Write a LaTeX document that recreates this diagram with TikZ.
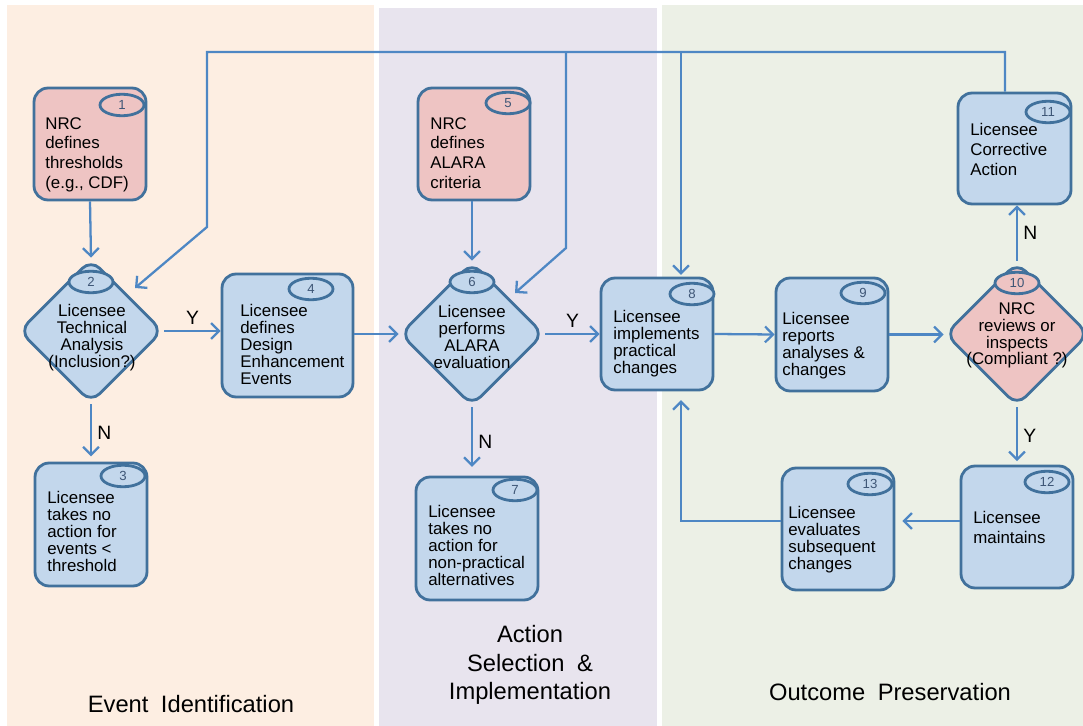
\documentclass[tikz,border=0pt]{standalone}
\usepackage{fontspec}
\setmainfont{Liberation Sans}
\usetikzlibrary{shapes.geometric, arrows.meta, calc}
\definecolor{peach}{HTML}{FDEEE2}
\definecolor{lav}{HTML}{E8E4EE}
\definecolor{sage}{HTML}{ECF0E6}
\definecolor{bfill}{HTML}{C3D7EC}
\definecolor{pfill}{HTML}{EEC4C3}
\definecolor{bord}{HTML}{41719C}
\definecolor{arr}{HTML}{4E87C4}
\definecolor{numc}{HTML}{3E5676}
\begin{document}
\begin{tikzpicture}[x=0.02cm, y=-0.02cm,
  box/.style={draw=bord, fill=bfill, line width=1.6pt, rounded corners=8pt, inner sep=0pt, minimum width=2.24cm, minimum height=2.24cm},
  pbox/.style={box, fill=pfill},
  dia/.style={diamond, draw=bord, fill=bfill, line width=1.6pt, rounded corners=7pt, inner sep=0pt, minimum width=2.88cm, minimum height=2.88cm, aspect=1},
  pdia/.style={dia, fill=pfill},
  badge/.style={ellipse, draw=bord, fill=bfill, line width=1.6pt, inner sep=0pt, minimum width=0.88cm, minimum height=0.43cm, font=\fontsize{7.5}{8}\selectfont, text=numc},
  pbadge/.style={badge, fill=pfill},
  txt/.style={anchor=north west, inner sep=0pt, align=left, font=\fontsize{9.6}{9.64}\selectfont, text=black},
  txtw/.style={txt, font=\fontsize{9.6}{11.3}\selectfont},
  ctxt/.style={txt, anchor=north, align=center},
  conn/.style={draw=arr, line width=1.3pt},
  arrow/.style={conn, -{Straight Barb[length=4.5pt, width=9pt]}},
  yn/.style={font=\fontsize{11}{13}\selectfont, text=black, inner sep=2pt},
  panel/.style={font=\fontsize{13.5}{16.4}\selectfont, align=center, text=black}
]
\useasboundingbox (0,0) rectangle (1083,726);
\fill[white] (0,0) rectangle (1083,726);
% panels
\fill[peach] (7,5) rectangle (374,726);
\fill[lav] (379,8) rectangle (657,726);
\fill[sage] (662,5) rectangle (1083,726);

% boxes and diamonds
\node[pbox] (b1) at (90,144) {};
\node[dia] (d2) at (91,331) {};
\node[box, minimum height=2.46cm] (b3) at (91,524.5) {};
\node[box, minimum width=2.62cm, minimum height=2.46cm] (b4) at (287.5,335.5) {};
\node[pbox] (b5) at (474,144) {};
\node[dia] (d6) at (472,334) {};
\node[box, minimum width=2.44cm, minimum height=2.46cm] (b7) at (477,538.5) {};
\node[box] (b8) at (657,334) {};
\node[box, minimum height=2.26cm] (b9) at (832,334.5) {};
\node[pdia] (d10) at (1017,334) {};
\node[box, minimum width=2.26cm, minimum height=2.22cm] (b11) at (1014.5,148.5) {};
\node[box, minimum height=2.44cm] (b12) at (1017,527) {};
\node[box, minimum height=2.44cm] (b13) at (838,529) {};

% number badges
\node[pbadge] (n1) at (122,105) {1};
\node[badge] (n2) at (91,282) {2};
\node[badge] (n3) at (123,476) {3};
\node[badge] (n4) at (311,289) {4};
\node[pbadge] (n5) at (508,103) {5};
\node[badge] (n6) at (472,282) {6};
\node[badge] (n7) at (515,490) {7};
\node[badge] (n8) at (692,294) {8};
\node[badge] (n9) at (863,293) {9};
\node[pbadge] (n10) at (1017,283) {10};
\node[badge] (n11) at (1048,112) {11};
\node[badge] (n12) at (1047,482) {12};
\node[badge] (n13) at (870,484) {13};

% texts
\node[txtw] (t1) at (45,117) {NRC\\defines\\thresholds\\(e.g., CDF)};
\node[ctxt] (t2) at (92,304) {Licensee\\Technical\\Analysis\\(Inclusion?)};
\node[txt] (t3) at (47,491) {Licensee\\takes no\\action for\\events <\\threshold};
\node[txt] (t4) at (240,304) {Licensee\\defines\\Design\\Enhancement\\Events};
\node[txtw] (t5) at (430,117) {NRC\\defines\\ALARA\\criteria};
\node[ctxt] (t6) at (472,305) {Licensee\\performs\\ALARA\\evaluation};
\node[txt] (t7) at (428,505) {Licensee\\takes no\\action for\\non-practical\\alternatives};
\node[txt] (t8) at (613,310) {Licensee\\implements\\practical\\changes};
\node[txt] (t9) at (782,312) {Licensee\\reports\\analyses \&\\changes};
\node[ctxt] (t10) at (1017,302) {NRC\\reviews or\\inspects\\(Compliant ?)};
\node[txtw] (t11) at (970,123) {Licensee\\Corrective\\Action};
\node[txtw] (t12) at (973,511) {Licensee\\maintains};
\node[txt] (t13) at (788,506) {Licensee\\evaluates\\subsequent\\changes};

% panel titles
\node[panel] (p1) at (191,704) {Event\hspace{0.25em} Identification};
\node[panel] (p2) at (530,665) {Action\\Selection\hspace{0.25em} \&\\Implementation};
\node[panel] (p3) at (890,692) {Outcome\hspace{0.25em} Preservation};

% feedback route coordinates
\coordinate (f11) at (1005,52);
\coordinate (fL) at (207,52);
\coordinate (fLd) at (207,227);
\coordinate (a2) at (135,288);
\coordinate (f6) at (566,52);
\coordinate (f6d) at (566,248);
\coordinate (a6) at (515,293);
\coordinate (f8) at (681,52);

% connectors
\draw[arrow] (b11.north -| f11) -- (f11) -- (fL) -- (fLd) -- (a2);
\draw[arrow] (f6) -- (f6d) -- (a6);
\draw[arrow, shorten >=1pt] (f8) -- (b8.north -| f8);
\draw[arrow] (b1.south) -- (d2.north);
\draw[arrow] (b5.south -| d6.north) -- (d6.north);
\draw[arrow] (d2.east) -- node[yn, above, yshift=1pt] (ly1) {Y} (d2.east -| b4.west);
\draw[arrow, shorten >=3pt] (d2.south) -- node[yn, right, xshift=1pt] (ln1) {N} (d2.south |- b3.north);
\draw[arrow] (b4.east |- d6.west) -- (d6.west);
\draw[arrow] (d6.east) -- node[yn, above, yshift=1pt] (ly2) {Y} (d6.east -| b8.west);
\draw[arrow, shorten >=5pt] (d6.south) -- node[yn, right, xshift=1pt] (ln2) {N} (d6.south |- b7.north);
\draw[arrow] (b8.east) -- (b9.west);
\draw[arrow] (b9.east) -- (b9.east -| d10.west);
\draw[arrow] (d10.north) -- node[yn, right, xshift=1pt] (ln3) {N} (d10.north |- b11.south);
\draw[arrow, shorten >=2pt] (d10.south) -- node[yn, right, xshift=1pt] (ly3) {Y} (d10.south |- b12.north);
\draw[arrow, shorten >=4pt] ([yshift=0.12cm]b12.west) -- ([yshift=0.12cm]b12.west -| b13.east);
\draw[arrow, shorten >=5pt] ([yshift=0.16cm]b13.west) -| ([xshift=0.48cm]b8.south);
\end{tikzpicture}
\end{document}
